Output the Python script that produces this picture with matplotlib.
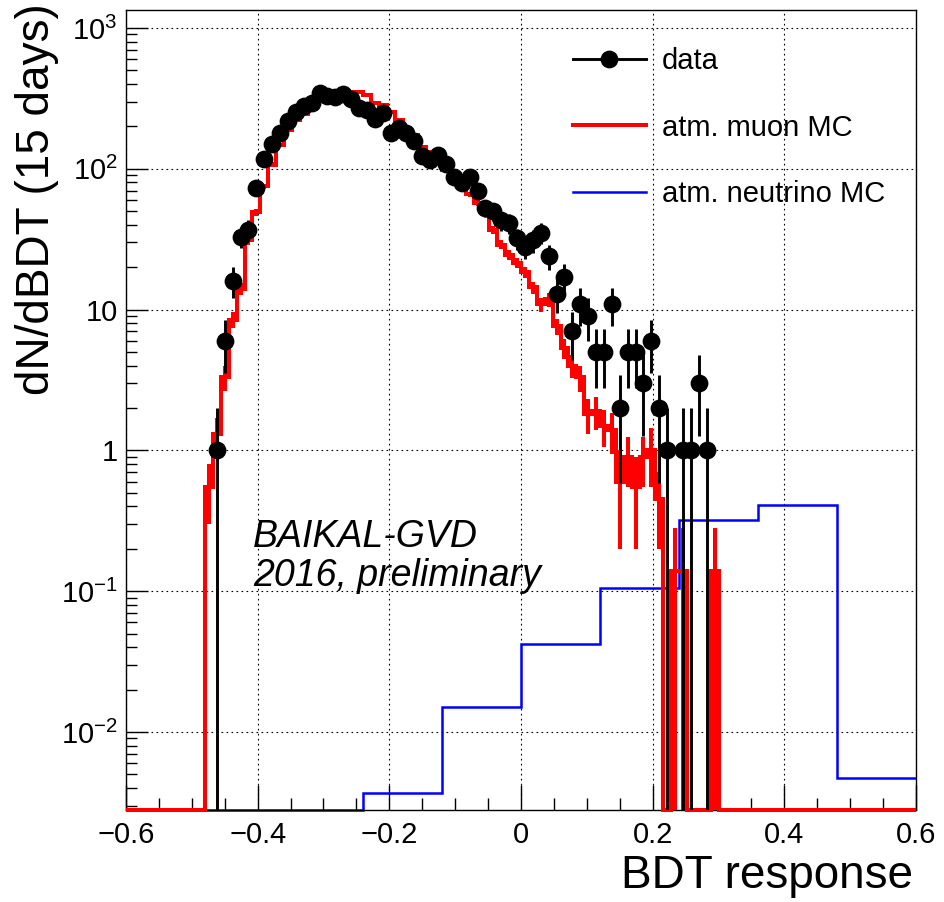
import numpy as np
import matplotlib
matplotlib.use("Agg")
import matplotlib.pyplot as plt
from matplotlib.ticker import LogLocator, NullFormatter, FuncFormatter, MultipleLocator
from matplotlib.lines import Line2D

plt.rcParams['font.family'] = ['Liberation Sans', 'DejaVu Sans']
plt.rcParams['mathtext.fontset'] = 'custom'
plt.rcParams['mathtext.rm'] = 'Liberation Sans'
plt.rcParams['mathtext.it'] = 'Liberation Sans:italic'
plt.rcParams['axes.unicode_minus'] = True

# ---------------- data ----------------
x_min, x_max = -0.6, 0.6
n_fine_bins = 100          # data and atm. muon MC binning
n_coarse_bins = 10         # atm. neutrino MC binning

# observed counts per bin (bins 0..99)
data_counts = [0] * 11 + [
    1, 6, 16, 33, 37, 73, 118, 150, 180, 219,
    254, 280, 294, 346, 329, 324, 340, 314, 271, 262,
    226, 249, 180, 195, 180, 158, 123, 116, 125, 108,
    88, 79, 88, 70, 53, 50, 43, 41, 32, 28,
    31, 35, 24, 13, 17, 7, 11, 9, 5, 5,
    11, 2, 5, 5, 3, 6, 2, 1, 0, 1,
    1, 3, 1] + [0] * 26

# atm. muon MC per bin (bins 0..99)
muon_mc = [0] * 10 + [
    0.55, 1.3, 3.3, 8.5, 14, 31, 49, 75, 107, 148,
    189, 223, 245, 270, 305, 330, 340, 345, 350, 350,
    335, 295, 285, 255, 223, 189, 174, 144, 132, 116,
    98, 86, 75, 66, 57, 49, 37, 29, 24.5, 21.6,
    18.4, 14.4, 10.9, 11.8, 7.6, 5.3, 4.0, 3.3, 1.8, 1.9,
    1.5, 1.4, 0.6, 0.9, 0.55, 0.9, 1.0, 0.45, 0, 0.14,
    0.14, 0, 0, 0, 0.14] + [0] * 25

muon_mc_err = [0] * 10 + [
    0.25, 0.4, 0.65, 1.1, 1.4, 2.1, 2.6, 3.2, 3.9, 4.5,
    5.1, 5.6, 5.9, 6.2, 6.5, 6.8, 6.9, 7.0, 7.0, 7.0,
    6.8, 6.4, 6.3, 6.0, 5.6, 5.1, 4.9, 4.5, 4.3, 4.0,
    3.7, 3.5, 3.2, 3.0, 2.8, 2.6, 2.3, 2.0, 1.85, 1.75,
    1.6, 1.4, 1.25, 1.3, 1.0, 0.85, 0.75, 0.7, 0.5, 0.5,
    0.45, 0.45, 0.4, 0.35, 0.35, 0.35, 0.45, 0.25, 0, 0.14,
    0.14, 0, 0, 0, 0.14] + [0] * 25

# atm. neutrino MC per coarse bin
nu_mc = [0, 0, 0, 0.0037, 0.015, 0.042, 0.105, 0.32, 0.41, 0.0047]

legend_labels = ["data", "atm. muon MC", "atm. neutrino MC"]
x_label = "BDT response"
y_label = "dN/dBDT (15 days)"
annotation = ["BAIKAL-GVD", "2016, preliminary"]

y_lo, y_hi = 0.00279, 1343.0

# ---------------- figure ----------------
W, H = 944, 902
fig = plt.figure(figsize=(W / 100, H / 100), dpi=100)
ax = fig.add_axes([126 / W, 1 - 810 / H, (916 - 126) / W, (810 - 10) / H])
ax.set_xlim(x_min, x_max)
ax.set_yscale('log')
ax.set_ylim(y_lo, y_hi)

edges_f = np.linspace(x_min, x_max, n_fine_bins + 1)
centers_f = 0.5 * (edges_f[:-1] + edges_f[1:])
edges_c = np.linspace(x_min, x_max, n_coarse_bins + 1)

nu = np.array(nu_mc, float)
mu = np.array(muon_mc, float)
mu_e = np.array(muon_mc_err, float)
dc = np.array(data_counts, float)

BLUE = '#0000ff'
RED = '#ff0000'

# neutrino MC
ax.stairs(np.where(nu > 0, nu, y_lo), edges_c, baseline=None, color=BLUE,
          lw=1.8, zorder=2, clip_on=False)

# muon MC
ax.stairs(np.where(mu > 0, mu, y_lo), edges_f, baseline=None, color=RED,
          lw=2.9, zorder=3, clip_on=False)
m = mu_e > 0
ax.vlines(centers_f[m], np.maximum(mu[m] - mu_e[m], y_lo), mu[m] + mu_e[m],
          color=RED, lw=2.9, zorder=3)

# data
d = dc > 0
derr = np.sqrt(dc[d])
ax.vlines(centers_f[d], np.maximum(dc[d] - derr, y_lo), dc[d] + derr,
          color='black', lw=2.1, zorder=4)
ax.plot(centers_f[d], dc[d], 'o', color='black', ms=11.8, zorder=5)

# grid
ax.grid(True, which='major', color='black', linestyle=(0, (1.5, 3)), lw=0.8)
ax.set_axisbelow(True)

# ticks
ax.xaxis.set_major_locator(MultipleLocator(0.2))
ax.xaxis.set_minor_locator(MultipleLocator(0.05))
ax.yaxis.set_major_locator(LogLocator(base=10, numticks=20))
ax.yaxis.set_minor_locator(LogLocator(base=10, subs=np.arange(2, 10), numticks=20))
ax.yaxis.set_minor_formatter(NullFormatter())


def xfmt(v, pos):
    if abs(v) < 1e-9:
        return "0"
    return f"{v:.1f}".replace('-', '\u2212')


def yfmt(v, pos):
    e = int(round(np.log10(v)))
    if e == 0:
        return "1"
    if e == 1:
        return "10"
    return r"$\mathregular{10^{%d}}$" % e


ax.xaxis.set_major_formatter(FuncFormatter(xfmt))
ax.yaxis.set_major_formatter(FuncFormatter(yfmt))
ax.tick_params(axis='both', which='both', direction='in', top=False, right=False,
               width=1.0, labelsize=21)
ax.tick_params(axis='x', which='major', length=18, pad=8)
ax.tick_params(axis='x', which='minor', length=8.6)
ax.tick_params(axis='y', which='major', length=16, pad=6)
ax.tick_params(axis='y', which='minor', length=8)
for s in ax.spines.values():
    s.set_linewidth(1.0)

# axis titles
fig.text(913 / W, 1 - 888 / H, x_label, ha='right', va='baseline', fontsize=33)
fig.text(37 / W, 1 - 3 / H, y_label, ha='center', va='top', rotation=90, fontsize=33)

# annotation
fig.text(253 / W, 1 - 547 / H, annotation[0], ha='left', va='baseline',
         fontsize=27, style='italic')
fig.text(253 / W, 1 - 586 / H, annotation[1], ha='left', va='baseline',
         fontsize=27, style='italic')

# legend
handles = [
    Line2D([], [], color='black', lw=2.1, marker='o', ms=11.8),
    Line2D([], [], color=RED, lw=2.9),
    Line2D([], [], color=BLUE, lw=1.8),
]
ax.legend(handles, legend_labels, loc='upper left',
          bbox_to_anchor=(573 / W, 1 - 47 / H), bbox_transform=fig.transFigure,
          frameon=False, fontsize=21, handlelength=2.5, handletextpad=0.55,
          labelspacing=1.32, borderpad=0, borderaxespad=0)

fig.savefig("out.png", dpi=100)
